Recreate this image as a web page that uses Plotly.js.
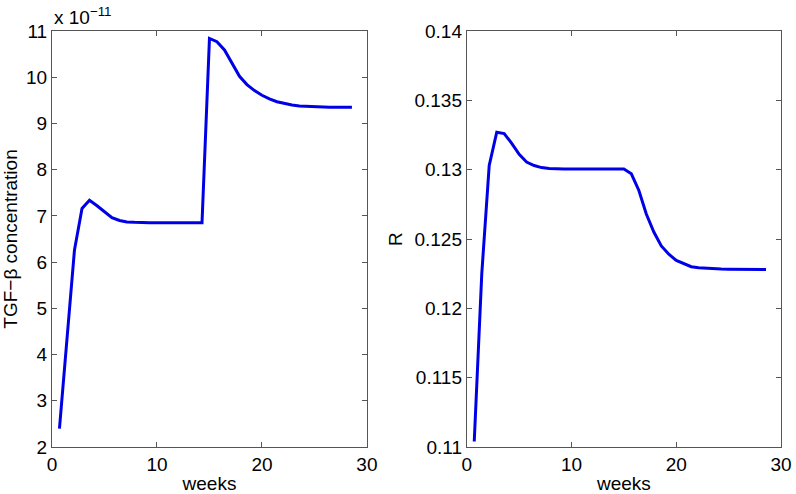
<!DOCTYPE html>
<html>
<head>
<meta charset="utf-8">
<script src="https://cdn.plot.ly/plotly-3.0.1.min.js"></script>
<style>
  html, body { margin: 0; padding: 0; background: #fff; }
  #chart { width: 796px; height: 494px; }
</style>
</head>
<body>
<div id="chart"></div>
<script>
// sample times (weeks), one every 5 days
var weeks = [0.71, 1.43, 2.14, 2.86, 3.57, 4.29, 5.00, 5.71, 6.43, 7.14,
             7.86, 8.57, 9.29, 10.00, 10.71, 11.43, 12.14, 12.86, 13.57, 14.29,
             15.00, 15.71, 16.43, 17.14, 17.86, 18.57, 19.29, 20.00, 20.71, 21.43,
             22.14, 22.86, 23.57, 24.29, 25.00, 25.71, 26.43, 27.14, 27.86, 28.57];

// TGF-beta concentration, in units of 1e-11
var tgfBeta = [2.40, 4.30, 6.26, 7.16, 7.34, 7.22, 7.08, 6.96, 6.90, 6.87,
               6.86, 6.85, 6.85, 6.85, 6.85, 6.85, 6.85, 6.85, 6.85, 6.85,
               10.84, 10.77, 10.59, 10.32, 10.02, 9.84, 9.71, 9.61, 9.53, 9.47,
               9.43, 9.40, 9.38, 9.37, 9.36, 9.35, 9.35, 9.35, 9.35, 9.35];

// R
var rValues = [0.1104, 0.1225, 0.1303, 0.1327, 0.1326, 0.1319, 0.1311, 0.13055, 0.1303, 0.13015,
               0.13008, 0.13005, 0.13005, 0.13005, 0.13005, 0.13005, 0.13005, 0.13005, 0.13005, 0.13005,
               0.13005, 0.1297, 0.1285, 0.1268, 0.1255, 0.1245, 0.1239, 0.12345, 0.1232, 0.1230,
               0.12293, 0.12288, 0.12285, 0.12283, 0.12282, 0.12281, 0.1228, 0.1228, 0.1228, 0.1228];

var xTicks = [0, 10, 20, 30];
var tgfTicks = [2, 3, 4, 5, 6, 7, 8, 9, 10, 11];
var rTicks = [0.11, 0.115, 0.12, 0.125, 0.13, 0.135, 0.14];
var rTickText = ["0.11", "0.115", "0.12", "0.125", "0.13", "0.135", "0.14"];

var lineStyle = {color: "#0000e6", width: 3};
var font = {family: "Liberation Sans, Arial, sans-serif", size: 19, color: "#000"};

var traces = [
  {x: weeks, y: tgfBeta, type: "scatter", mode: "lines", line: lineStyle, xaxis: "x", yaxis: "y"},
  {x: weeks, y: rValues, type: "scatter", mode: "lines", line: lineStyle, xaxis: "x2", yaxis: "y2"}
];

function axis(extra) {
  var a = {
    showgrid: false, zeroline: false,
    showline: true, linecolor: "#555", linewidth: 1, mirror: "ticks",
    ticks: "inside", ticklen: 5, tickcolor: "#555",
    tickfont: font, automargin: false
  };
  for (var k in extra) a[k] = extra[k];
  return a;
}

var layout = {
  width: 796, height: 494,
  margin: {l: 52, r: 15, t: 31, b: 47},
  paper_bgcolor: "#fff", plot_bgcolor: "#fff",
  showlegend: false,
  font: font,
  xaxis: axis({domain: [0, 0.432], range: [0, 30], tickvals: xTicks, anchor: "y",
               title: {text: "weeks", font: font, standoff: 2}}),
  yaxis: axis({domain: [0, 1], range: [2, 11], tickvals: tgfTicks, anchor: "x",
               title: {text: "TGF\u2212\u03b2 concentration", font: font, standoff: 8}}),
  xaxis2: axis({domain: [0.569, 1], range: [0, 30], tickvals: xTicks, anchor: "y2",
                title: {text: "weeks", font: font, standoff: 2}}),
  yaxis2: axis({domain: [0, 1], range: [0.11, 0.14], tickvals: rTicks, ticktext: rTickText, anchor: "x2",
                title: {text: "R", font: font, standoff: 6}}),
  annotations: [{
    text: "x 10<sup>\u221211</sup>", xref: "paper", yref: "paper",
    x: 0, y: 1, xanchor: "left", yanchor: "bottom", yshift: 1,
    showarrow: false, font: font
  }]
};

Plotly.newPlot("chart", traces, layout, {displayModeBar: false, staticPlot: true});
</script>
</body>
</html>
